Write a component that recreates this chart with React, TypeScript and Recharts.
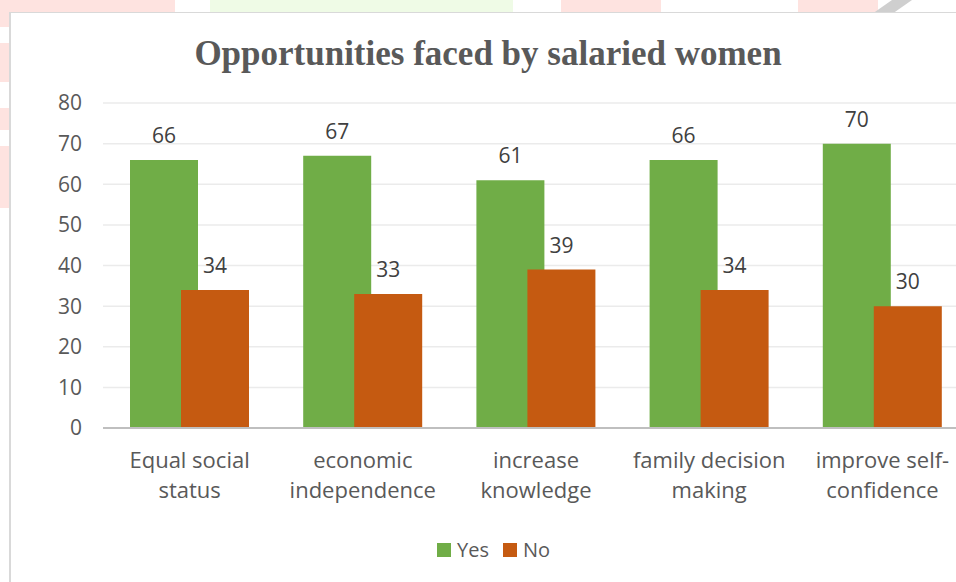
import { BarChart, Bar, XAxis, YAxis, CartesianGrid, LabelList } from 'recharts'

const categories = [
  'Equal social status',
  'economic independence',
  'increase knowledge',
  'family decision making',
  'improve self-confidence',
]
const yesValues = [66, 67, 61, 66, 70]
const noValues = [34, 33, 39, 34, 30]
const seriesNames = ['Yes', 'No']
const seriesColors = ['#70AD47', '#C55A11']
const yTicks = [0, 10, 20, 30, 40, 50, 60, 70, 80]

const data = categories.map((name, i) => ({ name, yes: yesValues[i], no: noValues[i] }))

const FONT = '"Open Sans", sans-serif'
const PINK = '#fee3e0'

// greedy wrap, also allows a break right after a hyphen
function wrapLabel(label: string, maxChars = 15) {
  const tokens = label.replace(/-/g, '- ').split(' ').filter(Boolean)
  const lines: string[] = []
  let cur = ''
  for (const t of tokens) {
    const sep = cur === '' || cur.endsWith('-') ? '' : ' '
    if (cur && (cur + sep + t).length > maxChars) {
      lines.push(cur)
      cur = t
    } else {
      cur = cur + sep + t
    }
  }
  if (cur) lines.push(cur)
  return lines
}

function CategoryTick({ x, y, payload }: any) {
  const lines = wrapLabel(payload.value)
  return (
    <text x={x} y={y} textAnchor="middle" fill="#595959" fontSize={22} fontFamily={FONT}>
      {lines.map((l, i) => (
        <tspan key={i} x={x} dy={i === 0 ? 32 : 30}>
          {l}
        </tspan>
      ))}
    </text>
  )
}

const box = (left: number, top: number, width: number, height: number, background = PINK) => (
  <div style={{ position: 'absolute', left, top, width, height, background }} />
)

export default function App() {
  return (
    <div style={{ position: 'absolute', left: 0, top: 0, width: 956, height: 582, overflow: 'hidden', background: '#fff' }}>
      {/* faint page decoration behind the chart */}
      {box(0, 0, 175, 14)}
      {box(210, 0, 303, 14, '#effbe6')}
      {box(561, 0, 100, 14)}
      {box(798, 0, 80, 14)}
      <div style={{ position: 'absolute', left: 882, top: 0, width: 20, height: 14, background: '#cfcfcf', transform: 'skewX(-55deg)' }} />
      {box(0, 0, 10, 27)}
      {box(0, 43, 10, 39)}
      {box(0, 108, 10, 22)}
      {box(0, 146, 10, 62)}

      {/* chart frame */}
      <div
        style={{
          position: 'absolute',
          left: 9,
          top: 12,
          width: 1000,
          height: 600,
          borderTop: '1px solid #d9d9d9',
          borderLeft: '2px solid #d9d9d9',
          background: '#fff',
        }}
      />

      <div
        style={{
          position: 'absolute',
          left: 0,
          top: 36,
          width: 976,
          textAlign: 'center',
          fontFamily: '"Liberation Serif", serif',
          fontWeight: 'bold',
          fontSize: 35,
          lineHeight: '35px',
          color: '#595959',
        }}
      >
        Opportunities faced by salaried women
      </div>

      <div style={{ position: 'absolute', left: 0, top: 0 }}>
        <BarChart
          width={1000}
          height={582}
          data={data}
          margin={{ top: 103, right: 31, left: 43, bottom: 54 }}
          barGap={-17}
        >
          <CartesianGrid vertical={false} stroke="#ebebeb" strokeWidth={1.5} />
          <XAxis
            dataKey="name"
            height={100}
            interval={0}
            tickLine={false}
            axisLine={{ stroke: '#bfbfbf', strokeWidth: 2 }}
            tick={<CategoryTick />}
          />
          <YAxis
            width={60}
            domain={[0, 80]}
            ticks={yTicks}
            axisLine={false}
            tickLine={false}
            tickMargin={15}
            tick={{ fill: '#595959', fontSize: 21, fontFamily: FONT }}
          />
          <Bar dataKey="yes" name={seriesNames[0]} fill={seriesColors[0]} barSize={68} isAnimationActive={false}>
            <LabelList dataKey="yes" position="top" offset={17} fill="#404040" fontSize={21} fontFamily={FONT} />
          </Bar>
          <Bar dataKey="no" name={seriesNames[1]} fill={seriesColors[1]} barSize={68} isAnimationActive={false}>
            <LabelList dataKey="no" position="top" offset={17} fill="#404040" fontSize={21} fontFamily={FONT} />
          </Bar>
        </BarChart>
      </div>

      {/* legend */}
      <div
        style={{
          position: 'absolute',
          left: 437,
          top: 536,
          display: 'flex',
          alignItems: 'center',
          fontFamily: FONT,
          fontSize: 20,
          color: '#595959',
          lineHeight: '28px',
        }}
      >
        {seriesNames.map((s, i) => (
          <span key={s} style={{ display: 'flex', alignItems: 'center', marginRight: 14 }}>
            <span style={{ width: 14, height: 14, background: seriesColors[i], display: 'inline-block', marginRight: 6 }} />
            {s}
          </span>
        ))}
      </div>
    </div>
  )
}
